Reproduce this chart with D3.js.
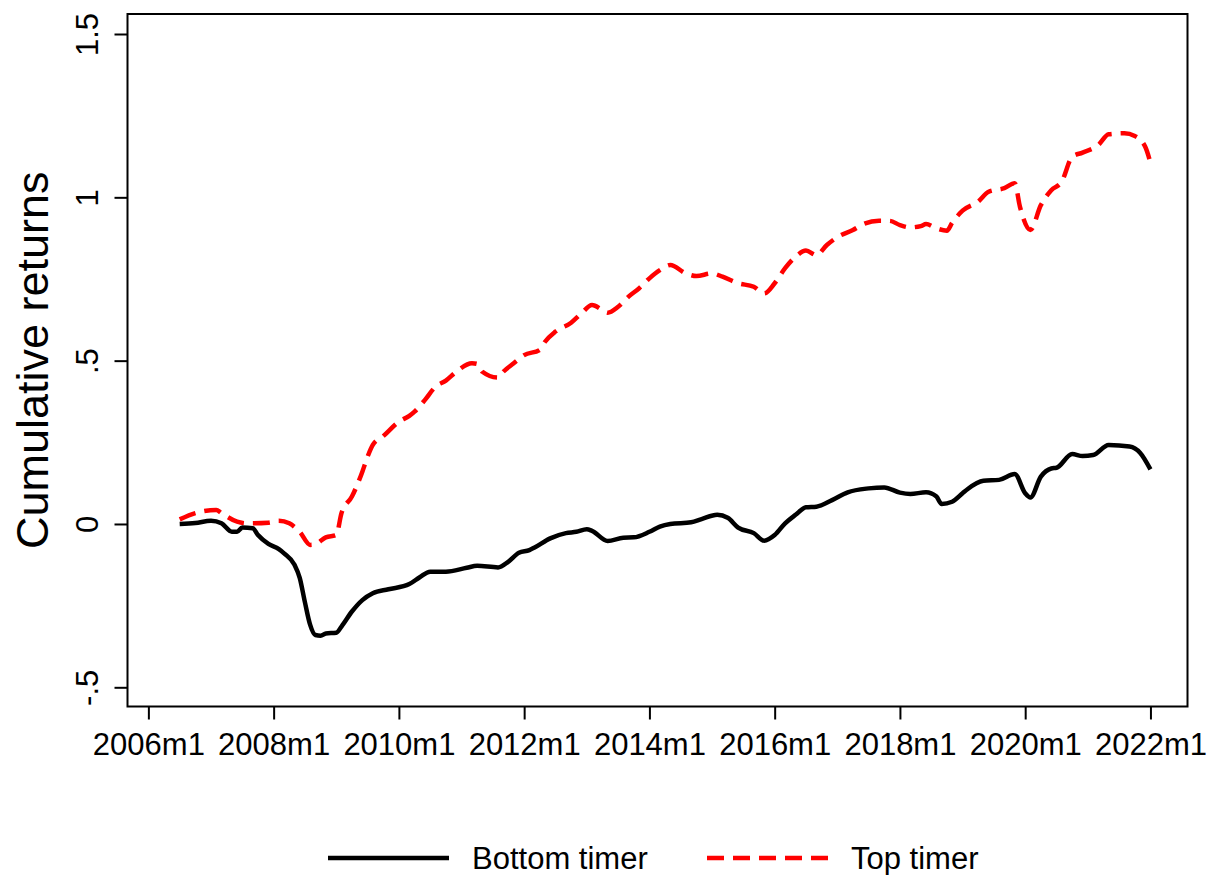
<!DOCTYPE html>
<html>
<head>
<meta charset="utf-8">
<script src="https://cdn.jsdelivr.net/npm/d3@7"></script>
<style>
  body { margin: 0; background: #fff; }
  svg { display: block; font-family: "Liberation Sans", Arial, Helvetica, sans-serif; }
</style>
</head>
<body>
<div id="vis"></div>
<script>
// data (Stata style month labels)
var bottomMonths = ["2006m7","2006m10","2007m1","2007m3","2007m5","2007m6","2007m7","2007m9","2007m10","2007m12",
  "2008m2","2008m3","2008m5","2008m6","2008m7","2008m8","2008m9","2008m10","2008m11","2009m1",
  "2009m2","2009m4","2009m6","2009m8","2009m11","2010m3","2010m5","2010m7","2010m10","2011m2",
  "2011m4","2011m8","2011m10","2011m12","2012m2","2012m3","2012m6","2012m9","2012m11","2013m1",
  "2013m2","2013m5","2013m8","2013m10","2014m1","2014m3","2014m5","2014m9","2014m11","2015m2",
  "2015m4","2015m6","2015m9","2015m11","2016m1","2016m3","2016m5","2016m7","2016m9","2016m12",
  "2017m3","2017m7","2017m10","2018m1","2018m3","2018m6","2018m8","2018m9","2018m11","2019m1",
  "2019m2","2019m5","2019m8","2019m11","2020m1","2020m2","2020m4","2020m6","2020m7","2020m10",
  "2020m12","2021m2","2021m5","2021m9","2021m11","2022m1"];
var bottomValues = [0.000,0.003,0.010,0.002,-0.024,-0.024,-0.011,-0.013,-0.034,-0.061,
  -0.077,-0.090,-0.125,-0.165,-0.240,-0.309,-0.340,-0.342,-0.335,-0.333,
  -0.314,-0.268,-0.233,-0.212,-0.200,-0.184,-0.163,-0.146,-0.146,-0.134,
  -0.128,-0.133,-0.115,-0.088,-0.080,-0.072,-0.044,-0.028,-0.024,-0.016,
  -0.021,-0.052,-0.042,-0.041,-0.024,-0.008,0.000,0.005,0.015,0.028,
  0.019,-0.011,-0.028,-0.051,-0.034,0.002,0.028,0.051,0.053,0.073,
  0.097,0.109,0.112,0.096,0.092,0.097,0.084,0.061,0.068,0.094,
  0.107,0.132,0.135,0.153,0.094,0.081,0.145,0.170,0.172,0.214,
  0.208,0.211,0.242,0.237,0.218,0.167];

var topMonths = ["2006m7","2006m10","2007m2","2007m3","2007m6","2007m8","2007m12","2008m2","2008m4","2008m6",
  "2008m8","2008m9","2008m11","2009m1","2009m2","2009m4","2009m6","2009m7","2009m8","2009m10",
  "2010m1","2010m3","2010m4","2010m6","2010m8","2010m10","2010m12","2011m3","2011m4","2011m5",
  "2011m8","2011m9","2011m11","2012m1","2012m4","2012m5","2012m7","2012m10","2012m12","2013m2",
  "2013m4","2013m5","2013m7","2013m9","2013m11","2014m1","2014m3","2014m5","2014m8","2014m10",
  "2015m1","2015m3","2015m6","2015m9","2015m11","2016m1","2016m3","2016m5","2016m7","2016m9",
  "2016m11","2017m1","2017m4","2017m6","2017m9","2017m11","2018m1","2018m3","2018m5","2018m6",
  "2018m8","2018m10","2018m11","2019m1","2019m4","2019m6","2019m9","2019m11","2019m12","2020m2",
  "2020m4","2020m6","2020m8","2020m10","2020m12","2021m3","2021m5","2021m8","2021m10","2021m12",
  "2022m1"];
var topValues = [0.014,0.033,0.043,0.033,0.007,0.002,0.004,0.010,0.002,-0.024,
  -0.064,-0.062,-0.041,-0.034,0.033,0.084,0.160,0.206,0.242,0.269,
  0.313,0.331,0.344,0.380,0.420,0.439,0.466,0.492,0.490,0.466,
  0.448,0.466,0.492,0.517,0.533,0.558,0.589,0.616,0.645,0.670,
  0.655,0.647,0.665,0.696,0.721,0.752,0.777,0.793,0.767,0.759,
  0.767,0.757,0.737,0.726,0.706,0.737,0.783,0.818,0.837,0.823,
  0.854,0.878,0.900,0.918,0.928,0.928,0.915,0.908,0.912,0.918,
  0.905,0.898,0.922,0.959,0.987,1.017,1.028,1.043,0.971,0.900,
  0.976,1.022,1.048,1.124,1.137,1.160,1.193,1.196,1.188,1.155,
  1.106];

var xTickLabels = ["2006m1","2008m1","2010m1","2012m1","2014m1","2016m1","2018m1","2020m1","2022m1"];
var yTickValues = [-0.5, 0, 0.5, 1, 1.5];
var yTickLabels = ["-.5", "0", ".5", "1", "1.5"];
var seriesNames = ["Bottom timer", "Top timer"];

var width = 1208, height = 875;
var plot = { left: 127.5, top: 14, right: 1187.5, bottom: 706.5 };

// "2006m7" -> months since 2006m1
function monthIndex(s) {
  var p = s.split("m");
  return (+p[0] - 2006) * 12 + (+p[1] - 1);
}

var x = d3.scaleLinear().domain([-4, 199.1]).range([plot.left, plot.right]);
var y = d3.scaleLinear().domain([-0.5, 1.5]).range([687.3, 34]);

var svg = d3.select("#vis").append("svg")
  .attr("width", width)
  .attr("height", height);

svg.append("rect")
  .attr("width", width).attr("height", height)
  .attr("fill", "#fff");

// frame
svg.append("rect")
  .attr("x", plot.left).attr("y", plot.top)
  .attr("width", plot.right - plot.left)
  .attr("height", plot.bottom - plot.top)
  .attr("fill", "none")
  .attr("stroke", "#000")
  .attr("stroke-width", 2);

// x axis
var xAxis = d3.axisBottom(x)
  .tickValues(xTickLabels.map(monthIndex))
  .tickSize(13)
  .tickFormat(function (d, i) { return xTickLabels[i]; });

var gx = svg.append("g")
  .attr("transform", "translate(0," + plot.bottom + ")")
  .call(xAxis);
gx.select(".domain").remove();
gx.selectAll("line").attr("stroke", "#000").attr("stroke-width", 2);
gx.selectAll("text")
  .attr("y", 48).attr("dy", 0)
  .attr("fill", "#000")
  .style("font-size", "31px");

// y axis
var yAxis = d3.axisLeft(y)
  .tickValues(yTickValues)
  .tickSize(13)
  .tickFormat(function (d, i) { return yTickLabels[i]; });

var gy = svg.append("g")
  .attr("transform", "translate(" + plot.left + ",0)")
  .call(yAxis);
gy.select(".domain").remove();
gy.selectAll("line").attr("stroke", "#000").attr("stroke-width", 2);
gy.selectAll("text")
  .attr("x", 0).attr("y", 0).attr("dy", 0)
  .attr("transform", "translate(-29.5,0) rotate(-90)")
  .attr("text-anchor", "middle")
  .attr("fill", "#000")
  .style("font-size", "31px");

svg.append("text")
  .attr("transform", "translate(48," + ((plot.top + plot.bottom) / 2) + ") rotate(-90)")
  .attr("text-anchor", "middle")
  .style("font-size", "45px")
  .text("Cumulative returns");

// lines
var line = d3.line()
  .x(function (d) { return x(d.m); })
  .y(function (d) { return y(d.v); })
  .curve(d3.curveMonotoneX);

var bottomData = bottomMonths.map(function (m, i) { return { m: monthIndex(m), v: bottomValues[i] }; });
var topData = topMonths.map(function (m, i) { return { m: monthIndex(m), v: topValues[i] }; });

svg.append("path")
  .datum(bottomData)
  .attr("d", line)
  .attr("fill", "none")
  .attr("stroke", "#000")
  .attr("stroke-width", 4.5)
  .attr("stroke-linejoin", "round");

svg.append("path")
  .datum(topData)
  .attr("d", line)
  .attr("fill", "none")
  .attr("stroke", "#ff0000")
  .attr("stroke-width", 4.5)
  .attr("stroke-dasharray", "17,9")
  .attr("stroke-linejoin", "round");

// legend
var legend = svg.append("g").attr("transform", "translate(0,858)");
var legendItems = [
  { name: seriesNames[0], x: 328, color: "#000", dash: null },
  { name: seriesNames[1], x: 707, color: "#ff0000", dash: "17,9" }
];
legendItems.forEach(function (d) {
  legend.append("line")
    .attr("x1", d.x).attr("x2", d.x + 121)
    .attr("y1", 0).attr("y2", 0)
    .attr("stroke", d.color)
    .attr("stroke-width", 4.5)
    .attr("stroke-dasharray", d.dash);
  legend.append("text")
    .attr("x", d.x + 144)
    .attr("y", 11)
    .style("font-size", "31px")
    .text(d.name);
});
</script>
</body>
</html>
